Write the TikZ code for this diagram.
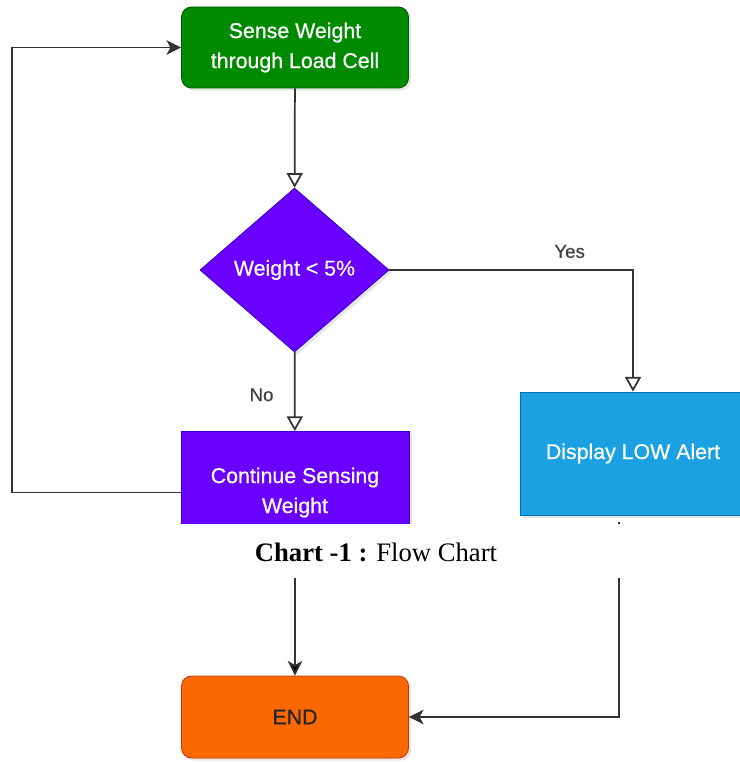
\documentclass[tikz,border=0pt]{standalone}
\usepackage{fontspec}
\setmainfont{Liberation Serif}
\newfontfamily\flowfont[FakeBold=0.6]{Liberation Sans}
\usetikzlibrary{arrows.meta,shapes.geometric,shadows,positioning}

\definecolor{senseGreen}{HTML}{008A00}
\definecolor{senseGreenLine}{HTML}{005700}
\definecolor{checkViolet}{HTML}{6A00FF}
\definecolor{checkVioletLine}{HTML}{3700CC}
\definecolor{alertBlue}{HTML}{1BA1E2}
\definecolor{alertBlueLine}{HTML}{006EAF}
\definecolor{endOrange}{HTML}{FA6800}
\definecolor{endOrangeLine}{HTML}{C73500}

\begin{document}
\begin{tikzpicture}
	[x=0.75pt, y=-0.75pt, >={Stealth[length=11pt,width=11pt,inset=3pt]},
	 block/.style = {rectangle, minimum width=170.25pt, line width=0.6pt, text=white,
	   font=\flowfont\fontsize{16}{22.5}\selectfont, align=center,
	   drop shadow={shadow xshift=2pt, shadow yshift=-2pt, opacity=.2}},
	 decision/.style = {block, diamond, minimum width=141.75pt, minimum height=123pt, inner sep=0pt},
	 wire/.style = {draw=black!80, line width=1.3pt},
	 hollow/.style = {-{Triangle[open,length=11pt,width=12pt]}},
	 tag/.style = {font=\flowfont\fontsize{14}{16}\selectfont, text=black!75}]
\useasboundingbox (0,0) rectangle (739,762);

\node[block, rounded corners=7.5pt, fill=senseGreen, draw=senseGreenLine, minimum height=60.75pt]
	(sense) at (295,47.5) {Sense Weight\\through Load Cell};
\node[decision, fill=checkViolet, draw=checkVioletLine] (check) at (294.5,270) {Weight < 5\%};
\node[block, fill=checkViolet, draw=checkVioletLine, minimum width=171pt, minimum height=91.5pt]
	(cont) at (295,492.5) {Continue Sensing\\Weight};
\node[block, fill=alertBlue, draw=alertBlueLine, minimum width=169.5pt, minimum height=92.25pt]
	(alert) at (633,453.5) {Display LOW Alert};
\node[block, rounded corners=7.5pt, fill=endOrange, draw=endOrangeLine, text=black!85, minimum height=61.5pt]
	(end) at (295,717) {END};

\coordinate (back) at (12,0);
\coordinate (alert drop) at (619,522);

\path[wire, hollow]
	(sense) edge (check)
	(check) edge node[tag, pos=.54, left, xshift=-12pt] {No} (cont);
\draw[wire, hollow] (check.east) -| node[tag, pos=.37, above, yshift=5pt] {Yes} (alert.north);
\draw[wire, ->] (cont.west) -- (cont.west -| back) |- (sense.west);

\path[wire, ->] (cont) edge (end);
\draw[wire, ->] (alert drop) |- (end.east);

% caption strip
\fill[white] (0,524) rectangle (739,578);
\node[font=\fontsize{20}{24}\selectfont] (caption) at (376,552) {\textbf{Chart -1 :} Flow Chart};
\end{tikzpicture}
\end{document}
